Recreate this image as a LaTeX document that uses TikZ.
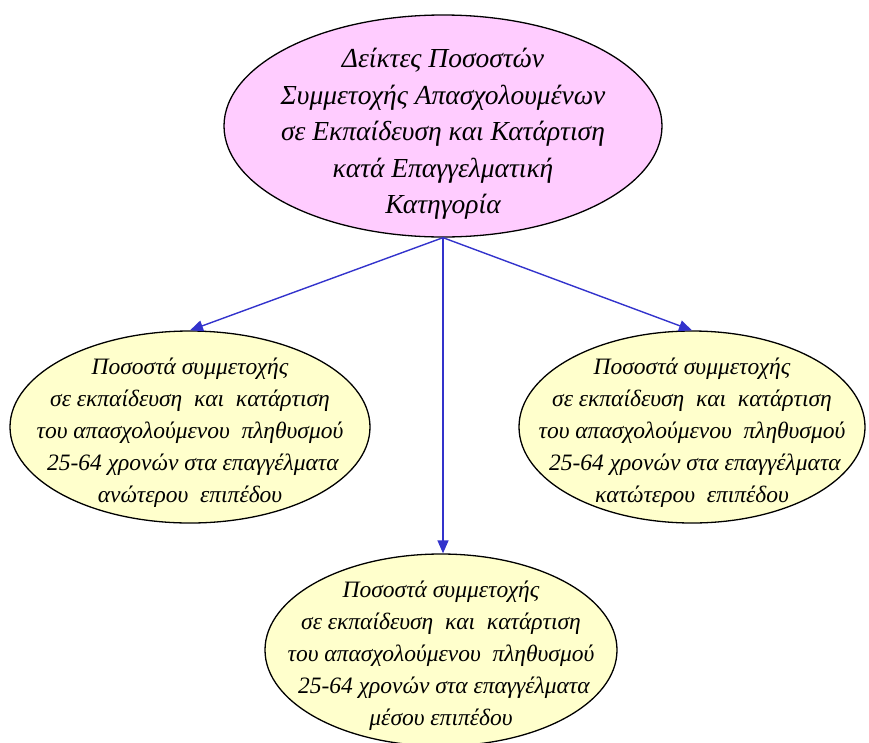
\documentclass[tikz,border=0pt]{standalone}
\usepackage{fontspec}
\setmainfont{Liberation Serif}
\usepackage{tikz}
\usetikzlibrary{shapes,arrows.meta,positioning,calc}
\definecolor{rootpink}{RGB}{255, 204, 255}
\definecolor{leafyellow}{RGB}{255, 255, 204}
\definecolor{linkblue}{RGB}{51, 51, 204}
\tikzset{
  oval/.style={ellipse,draw=black,line width=1.3pt,inner sep=0pt},
  rootoval/.style={oval,fill=rootpink,minimum width=438pt,minimum height=222pt},
  leafoval/.style={oval,fill=leafyellow,minimum width=352pt,minimum height=192pt},
  roottxt/.style={align=center,font=\itshape\fontsize{27.5}{36.5}\selectfont},
  leaftxt/.style={align=center,font=\itshape\fontsize{23.5}{32}\selectfont},
  arr/.style={-{Triangle[length=13pt,width=11pt]},line width=1.4pt,draw=linkblue},
}
\begin{document}
\begin{tikzpicture}[x=1pt,y=-1pt]
        \useasboundingbox (0,0) rectangle (869,742);
        \node[rootoval,label={[roottxt,yshift=-8pt]center:{Δείκτες Ποσοστών\\Συμμετοχής Απασχολουμένων\\σε Εκπαίδευση και Κατάρτιση\\κατά Επαγγελματική\\Κατηγορία}}] (root) at (443,126) {};
        \node[leafoval,minimum width=360pt,label={[leaftxt,yshift=-6pt]center:{Ποσοστά συμμετοχής\\σε εκπαίδευση~ και~ κατάρτιση\\του απασχολούμενου~ πληθυσμού\\~25-64 χρονών στα επαγγέλματα\\ανώτερου~ επιπέδου}}] (high) at (190,427) {};
        \node[leafoval,minimum width=346pt,label={[leaftxt,yshift=-6pt]center:{Ποσοστά συμμετοχής\\σε εκπαίδευση~ και~ κατάρτιση\\του απασχολούμενου~ πληθυσμού\\~25-64 χρονών στα επαγγέλματα\\κατώτερου~ επιπέδου}}] (low) at (692,427) {};
        \node[leafoval,label={[leaftxt,yshift=-6pt]center:{Ποσοστά συμμετοχής\\σε εκπαίδευση~ και~ κατάρτιση\\του απασχολούμενου~ πληθυσμού\\~25-64 χρονών στα επαγγέλματα\\μέσου επιπέδου}}] (mid) at (441,650) {};
        \draw[arr](root.south)--(high.north);
        \draw[arr](root.south)--(low.north);
        \draw[arr](root.south)--(root.south|-mid.north);
      \end{tikzpicture}
\end{document}
